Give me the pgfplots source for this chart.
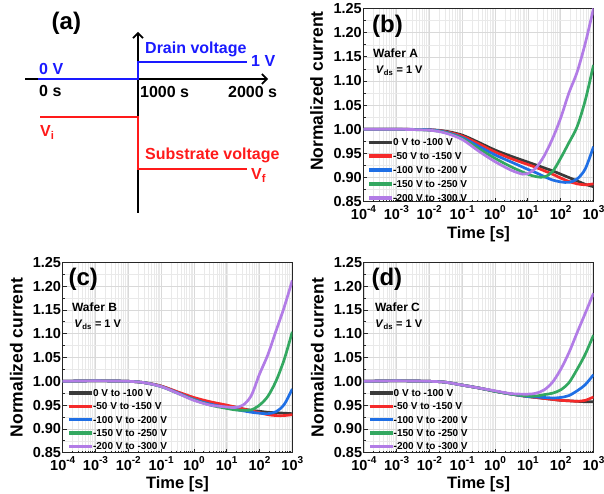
\documentclass[border=0pt]{standalone}
\usepackage{fontspec}
\setmainfont{Liberation Sans}
\usepackage{pgfplots}
\pgfplotsset{compat=1.18}
\usetikzlibrary{arrows.meta}

\definecolor{cblack}{HTML}{3A3A3A}
\definecolor{cred}{HTML}{F52A2A}
\definecolor{cblue}{HTML}{1F6FE5}
\definecolor{cgreen}{HTML}{33A860}
\definecolor{cpurple}{HTML}{B27CE6}
\definecolor{sblue}{HTML}{1A1AFF}
\definecolor{sred}{HTML}{FF1A1A}

\newcommand\ex[1]{10\raisebox{0.45em}{\fontsize{10}{10}\selectfont #1}}
\newcommand\fs[1]{\fontsize{#1}{#1}\selectfont\bfseries}

\pgfplotsset{
  cb/.style={cblack, line width=2.7pt, smooth},
  cr/.style={cred, line width=2.7pt, smooth},
  cu/.style={cblue, line width=2.7pt, smooth},
  cg/.style={cgreen, line width=2.7pt, smooth},
  cp/.style={cpurple, line width=2.7pt, smooth},
  myPanel/.style={
    scale only axis, clip=true,
    xmin=1e-4, xmax=1e3, ymin=0.85, ymax=1.25,
    xtick={1e-4,1e-3,1e-2,1e-1,1,1e1,1e2,1e3},
    xticklabels={\ex{-4},\ex{-3},\ex{-2},\ex{-1},\ex{0},\ex{1},\ex{2},\ex{3}},
    ytick={0.85,0.90,0.95,1.00,1.05,1.10,1.15,1.20,1.25},
    yticklabels={0.85,0.90,0.95,1.00,1.05,1.10,1.15,1.20,1.25},
    minor ytick={0.875,0.925,0.975,1.025,1.075,1.125,1.175,1.225},
    grid=both,
    major grid style={gray!30, line width=0.5pt},
    minor grid style={gray!17, line width=0.4pt},
    tick align=inside, tick pos=left,
    major tick length=4pt, minor tick length=2pt,
    every tick/.style={black!85, line width=0.7pt},
    axis line style={black!85, line width=1.1pt},
    tick label style={font=\fs{14.5}},
    xticklabel style={inner sep=4pt},
    yticklabel style={inner sep=1.5pt},
    xlabel={Time [s]}, ylabel={Normalized current},
    xlabel style={font=\fs{16.5}, at={(axis description cs:0.5,-0.167)}, anchor=center},
    ylabel style={font=\fs{17.5}, at={(axis description cs:-0.202,0.5)}, anchor=center},
    legend cell align=left,
    legend image code/.code={\fill[##1, draw=none] (0pt,-1.7pt) rectangle (23pt,1.7pt);},
    legend style={draw=none, fill=none, inner sep=0pt, anchor=north west,
      font=\fs{10}, row sep=4.4pt,
      nodes={inner sep=1pt, text height=7pt, text depth=0pt}},
  },
}

\begin{document}
\begin{tikzpicture}[x=1pt, y=1pt]
\useasboundingbox (0,0) rectangle (604,-494);

% (a) schematic
\begin{axis}[at={(0pt,0pt)}, anchor=north west, scale only axis,
  width=300pt, height=247pt, xmin=0, xmax=300, ymin=-247, ymax=0,
  hide axis, clip=false]
\addplot[black, line width=1.8pt, -{Straight Barb[length=5pt, width=10pt, line width=1.6pt]}]
  coordinates {(25,-79) (268,-79)};
\addplot[black, line width=1.8pt, -{Straight Barb[length=5pt, width=10pt, line width=1.6pt]}]
  coordinates {(138,-213) (138,-32)};
\addplot[sblue, line width=1.8pt] coordinates {(38,-79) (138,-79) (138,-62) (247,-62)};
\addplot[sred, line width=1.8pt] coordinates {(40,-117) (138,-117) (138,-169) (247,-169)};
\node[anchor=base west, inner sep=0pt, font=\fs{24}] at (axis cs:51.5,-30) {(a)};
\node[anchor=base west, inner sep=0pt, font=\fs{16}, text=sblue] at (axis cs:145,-53.3) {Drain voltage};
\node[anchor=base west, inner sep=0pt, font=\fs{16}, text=sblue] at (axis cs:251,-66.7) {1 V};
\node[anchor=base west, inner sep=0pt, font=\fs{16}, text=sblue] at (axis cs:39,-75) {0 V};
\node[anchor=base west, inner sep=0pt, font=\fs{16}] at (axis cs:39,-96.7) {0 s};
\node[anchor=base west, inner sep=0pt, font=\fs{16}] at (axis cs:140,-97.5) {1000 s};
\node[anchor=base west, inner sep=0pt, font=\fs{16}] at (axis cs:228,-97.5) {2000 s};
\node[anchor=base west, inner sep=0pt, font=\fs{16}, text=sred] at (axis cs:40,-136.7) {V\textsubscript{i}};
\node[anchor=base west, inner sep=0pt, font=\fs{16}, text=sred] at (axis cs:145,-159.3) {Substrate voltage};
\node[anchor=base west, inner sep=0pt, font=\fs{16}, text=sred] at (axis cs:251,-180) {V\textsubscript{f}};
\end{axis}

% (b) Wafer A
\begin{axis}[xmode=log, myPanel, at={(363.5pt,-8.5pt)}, anchor=north west, width=230pt, height=193.2pt,
  ylabel style={at={(axis description cs:-0.204,0.573)}},
  legend style={at={(axis description cs:0.024,0.332)}, row sep=4.9pt}]
\addplot[cb] coordinates {(1e-4,1.000) (1e-3,1.000) (1e-2,0.999) (0.0316,0.996) (0.1,0.988) (0.316,0.973) (1,0.957) (3.16,0.944) (10,0.932) (17.8,0.926) (31.6,0.920) (56.2,0.914) (100,0.907) (178,0.900) (316,0.893) (562,0.886) (1000,0.881)};
\addplot[cr] coordinates {(1e-4,1.000) (1e-3,1.000) (1e-2,0.999) (0.0316,0.995) (0.1,0.986) (0.316,0.970) (1,0.953) (3.16,0.939) (10,0.927) (17.8,0.921) (31.6,0.914) (56.2,0.907) (100,0.899) (178,0.892) (316,0.887) (562,0.885) (1000,0.887)};
\addplot[cu] coordinates {(1e-4,1.000) (1e-3,1.000) (1e-2,0.999) (0.0316,0.994) (0.1,0.983) (0.316,0.965) (1,0.947) (3.16,0.932) (10,0.917) (17.8,0.910) (31.6,0.902) (56.2,0.895) (100,0.891) (178,0.890) (316,0.897) (562,0.918) (1000,0.964)};
\addplot[cg] coordinates {(1e-4,1.000) (1e-3,1.000) (1e-2,0.998) (0.0316,0.993) (0.1,0.981) (0.316,0.960) (1,0.940) (3.16,0.922) (10,0.907) (17.8,0.902) (31.6,0.901) (56.2,0.912) (100,0.940) (178,0.972) (316,1.005) (562,1.060) (1000,1.133)};
\addplot[cp] coordinates {(1e-4,1.000) (1e-3,1.000) (1e-2,0.998) (0.0316,0.992) (0.1,0.979) (0.316,0.955) (1,0.933) (3.16,0.915) (7,0.907) (10,0.908) (17.8,0.920) (31.6,0.945) (56.2,0.980) (100,1.023) (178,1.075) (316,1.118) (562,1.178) (1000,1.250)};
\legend{0 V to -100 V, -50 V to -150 V, -100 V to -200 V, -150 V to -250 V, -200 V to -300 V}
\node[anchor=base west, inner sep=0pt, font=\fs{24}] at (axis description cs:0.037,0.878) {(b)};
\node[anchor=base west, inner sep=0pt, font=\fs{12}] at (axis description cs:0.041,0.747) {Wafer A};
\node[anchor=base west, inner sep=0pt, font=\fs{11}] at (axis description cs:0.053,0.661) {\textit{V}\textsubscript{ds} = 1 V};
\end{axis}

% (c) Wafer B
\begin{axis}[xmode=log, myPanel, at={(62.7pt,-262.3pt)}, anchor=north west, width=229.6pt, height=190.4pt,
  xlabel style={at={(axis description cs:0.5,-0.168)}},
  legend style={at={(axis description cs:0.027,0.339)}}]
\addplot[cb] coordinates {(1e-4,1.000) (1e-3,1.001) (1e-2,1.000) (0.0316,0.997) (0.1,0.990) (0.316,0.977) (1,0.964) (3.16,0.955) (10,0.948) (17.8,0.946) (31.6,0.942) (56.2,0.939) (100,0.937) (178,0.935) (316,0.934) (562,0.933) (1000,0.932)};
\addplot[cr] coordinates {(1e-4,1.000) (1e-3,1.001) (1e-2,1.000) (0.0316,0.997) (0.1,0.990) (0.316,0.978) (1,0.966) (3.16,0.957) (10,0.950) (17.8,0.946) (31.6,0.942) (56.2,0.938) (100,0.934) (178,0.930) (316,0.928) (562,0.928) (1000,0.930)};
\addplot[cu] coordinates {(1e-4,1.000) (1e-3,1.001) (1e-2,1.000) (0.0316,0.997) (0.1,0.989) (0.316,0.976) (1,0.962) (3.16,0.952) (10,0.945) (17.8,0.941) (31.6,0.938) (56.2,0.935) (100,0.933) (178,0.932) (316,0.936) (562,0.951) (1000,0.984)};
\addplot[cg] coordinates {(1e-4,1.000) (1e-3,1.001) (1e-2,1.000) (0.0316,0.997) (0.1,0.989) (0.316,0.975) (1,0.961) (3.16,0.950) (10,0.943) (17.8,0.940) (31.6,0.939) (56.2,0.940) (100,0.950) (178,0.968) (316,1.000) (562,1.045) (1000,1.104)};
\addplot[cp] coordinates {(1e-4,1.000) (1e-3,1.001) (1e-2,1.000) (0.0316,0.997) (0.1,0.989) (0.316,0.975) (1,0.960) (3.16,0.950) (10,0.946) (17.8,0.945) (31.6,0.950) (56.2,0.970) (100,1.015) (178,1.055) (316,1.105) (562,1.155) (1000,1.212)};
\legend{0 V to -100 V, -50 V to -150 V, -100 V to -200 V, -150 V to -250 V, -200 V to -300 V}
\node[anchor=base west, inner sep=0pt, font=\fs{24}] at (axis description cs:0.025,0.876) {(c)};
\node[anchor=base west, inner sep=0pt, font=\fs{12}] at (axis description cs:0.040,0.744) {Wafer B};
\node[anchor=base west, inner sep=0pt, font=\fs{11}] at (axis description cs:0.050,0.656) {\textit{V}\textsubscript{ds} = 1 V};
\end{axis}

% (d) Wafer C
\begin{axis}[xmode=log, myPanel, at={(363.8pt,-262.3pt)}, anchor=north west, width=229.7pt, height=190.4pt,
  xlabel style={at={(axis description cs:0.5,-0.168)}},
  legend style={at={(axis description cs:0.025,0.339)}}]
\addplot[cb] coordinates {(1e-4,1.000) (1e-3,1.001) (1e-2,1.000) (0.0316,0.998) (0.1,0.992) (0.316,0.986) (1,0.979) (3.16,0.973) (10,0.968) (17.8,0.966) (31.6,0.964) (56.2,0.962) (100,0.960) (178,0.959) (316,0.958) (562,0.957) (1000,0.957)};
\addplot[cr] coordinates {(1e-4,1.000) (1e-3,1.001) (1e-2,1.000) (0.0316,0.998) (0.1,0.992) (0.316,0.986) (1,0.979) (3.16,0.973) (10,0.968) (17.8,0.966) (31.6,0.964) (56.2,0.962) (100,0.960) (178,0.959) (316,0.958) (562,0.960) (1000,0.967)};
\addplot[cu] coordinates {(1e-4,1.000) (1e-3,1.001) (1e-2,1.000) (0.0316,0.998) (0.1,0.992) (0.316,0.986) (1,0.979) (3.16,0.973) (10,0.968) (17.8,0.967) (31.6,0.966) (56.2,0.965) (100,0.966) (178,0.970) (316,0.980) (562,0.993) (1000,1.014)};
\addplot[cg] coordinates {(1e-4,1.000) (1e-3,1.001) (1e-2,1.000) (0.0316,0.998) (0.1,0.992) (0.316,0.986) (1,0.979) (3.16,0.973) (10,0.969) (17.8,0.969) (31.6,0.972) (56.2,0.975) (100,0.982) (178,0.997) (316,1.025) (562,1.057) (1000,1.097)};
\addplot[cp] coordinates {(1e-4,1.000) (1e-3,1.001) (1e-2,1.000) (0.0316,0.998) (0.1,0.992) (0.316,0.986) (1,0.980) (3.16,0.974) (10,0.973) (17.8,0.975) (31.6,0.982) (56.2,0.998) (100,1.025) (178,1.060) (316,1.102) (562,1.143) (1000,1.185)};
\legend{0 V to -100 V, -50 V to -150 V, -100 V to -200 V, -150 V to -250 V, -200 V to -300 V}
\node[anchor=base west, inner sep=0pt, font=\fs{24}] at (axis description cs:0.033,0.876) {(d)};
\node[anchor=base west, inner sep=0pt, font=\fs{12}] at (axis description cs:0.048,0.744) {Wafer C};
\node[anchor=base west, inner sep=0pt, font=\fs{11}] at (axis description cs:0.050,0.656) {\textit{V}\textsubscript{ds} = 1 V};
\end{axis}
\end{tikzpicture}
\end{document}
